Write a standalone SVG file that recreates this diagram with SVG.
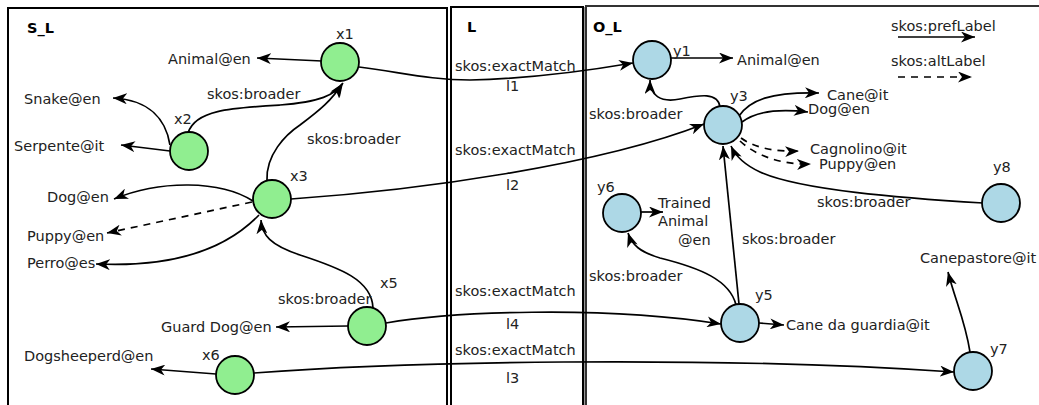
<svg xmlns="http://www.w3.org/2000/svg" width="1039" height="405" viewBox="0 0 1039 405">
<style>
text{font-family:"DejaVu Sans","Liberation Sans",sans-serif;font-size:14.5px;fill:#222}
.b{font-weight:bold;fill:#000}
.box{fill:none;stroke:#000;stroke-width:2}
.src{fill:#90EE90;stroke:#000;stroke-width:1.8}
.tgt{fill:#ADD8E6;stroke:#000;stroke-width:1.8}
.e{fill:none;stroke:#000;stroke-width:1.7;marker-end:url(#ah)}
.d{stroke-dasharray:7,6}
</style>
<defs>
<marker id="ah" markerUnits="userSpaceOnUse" markerWidth="15" markerHeight="11" refX="14" refY="5.5" orient="auto">
<path d="M0,0 L14,5.5 L0,11 L4,5.5 z" fill="#000"/>
</marker>
</defs>
<rect width="1039" height="405" fill="#fff"/>
<g id="regions">
<rect class="box" x="8" y="8" width="439" height="420"/>
<rect class="box" x="451" y="7" width="132" height="420"/>
<rect class="box" x="586" y="6" width="470" height="420" style="stroke:#333"/>
<line x1="584.5" y1="7" x2="584.5" y2="405" stroke="#999" stroke-width="1"/>
<text class="b" x="27" y="33">S_L</text>
<text class="b" x="467" y="32">L</text>
<text class="b" x="593" y="32">O_L</text>
</g>
<g id="legend">
<text x="891" y="31">skos:prefLabel</text>
<path class="e" d="M898 37 L975 37"/>
<text x="891" y="66">skos:altLabel</text>
<path class="e d" d="M898 77 L972 77"/>
</g>
<g id="connectors">
<path class="e" d="M322 61 L257 58"/>
<path class="e" d="M170 145 C166 120 150 100 113 98"/>
<path class="e" d="M170 151 L121 145"/>
<path class="e" d="M188 133 C195 110 230 108 280 105 C320 102 335 95 343 83"/>
<path class="e" d="M267 180 C266 155 285 135 300 125 C320 110 332 100 342 84"/>
<path class="e" d="M253 201 C220 180 160 180 114 199"/>
<path class="e d" d="M252 202 L107 233"/>
<path class="e" d="M259 215 C230 245 180 268 96 264"/>
<path class="e" d="M373 308 C372 280 340 268 300 255 C270 245 262 235 261 220"/>
<path class="e" d="M348 326 L276 327"/>
<path class="e" d="M216 374 L151 369"/>
<path class="e" d="M359 67 C400 72 430 80 470 80 C520 79 580 72 633 63"/>
<path class="e" d="M291 199 C420 190 600 165 704 124"/>
<path class="e" d="M386 323 C450 312 600 305 721 324"/>
<path class="e" d="M254 373 C400 362 700 355 954 372"/>
<path class="e" d="M671 58 L733 58"/>
<path class="e" d="M720 107 C718 92 700 95 680 99 C660 103 650 95 650 80"/>
<path class="e" d="M739 116 C750 100 770 92 819 93"/>
<path class="e" d="M742 122 C755 112 775 108 808 112"/>
<path class="e d" d="M741 138 C755 148 775 152 799 151"/>
<path class="e d" d="M740 141 C755 155 780 165 811 164"/>
<path class="e" d="M983 203 C900 198 800 190 760 172 C745 165 735 155 731 146"/>
<path class="e" d="M739 304 L723 146"/>
<path class="e" d="M736 305 C730 280 700 268 660 258 C640 252 632 245 628 233"/>
<path class="e" d="M641 212 L663 212"/>
<path class="e" d="M759 323 L784 325"/>
<path class="e" d="M970 352 C965 320 955 300 948 272"/>
<text x="207" y="99">skos:broader</text>
<text x="307" y="144">skos:broader</text>
<text x="278" y="304">skos:broader</text>
<text x="455" y="71">skos:exactMatch</text>
<text x="506" y="91">l1</text>
<text x="455" y="155">skos:exactMatch</text>
<text x="506" y="190">l2</text>
<text x="455" y="296">skos:exactMatch</text>
<text x="506" y="329">l4</text>
<text x="455" y="355">skos:exactMatch</text>
<text x="506" y="383">l3</text>
<text x="589" y="119">skos:broader</text>
<text x="817" y="207">skos:broader</text>
<text x="742" y="244">skos:broader</text>
<text x="589" y="281">skos:broader</text>
</g>
<g id="literals">
<text x="168" y="64">Animal@en</text>
<text x="24" y="104">Snake@en</text>
<text x="14" y="151">Serpente@it</text>
<text x="47" y="202">Dog@en</text>
<text x="27" y="241">Puppy@en</text>
<text x="27" y="268">Perro@es</text>
<text x="161" y="332">Guard Dog@en</text>
<text x="24" y="361">Dogsheeperd@en</text>
<text x="737" y="65">Animal@en</text>
<text x="827" y="100">Cane@it</text>
<text x="808" y="114">Dog@en</text>
<text x="810" y="154">Cagnolino@it</text>
<text x="819" y="169">Puppy@en</text>
<text x="658" y="208">Trained</text>
<text x="658" y="226">Animal</text>
<text x="678" y="245">@en</text>
<text x="786" y="330">Cane da guardia@it</text>
<text x="920" y="263">Canepastore@it</text>
</g>
<g id="x1"><circle class="src" cx="340" cy="62" r="19"/><text x="336" y="39">x1</text></g>
<g id="x2"><circle class="src" cx="189" cy="151" r="19"/><text x="174" y="124">x2</text></g>
<g id="x3"><circle class="src" cx="272" cy="199" r="19"/><text x="290" y="181">x3</text></g>
<g id="x5"><circle class="src" cx="367" cy="326" r="19"/><text x="380" y="288">x5</text></g>
<g id="x6"><circle class="src" cx="235" cy="375" r="19"/><text x="202" y="360">x6</text></g>
<g id="y1"><circle class="tgt" cx="652" cy="60" r="19"/><text x="673" y="56">y1</text></g>
<g id="y3"><circle class="tgt" cx="723" cy="125" r="19"/><text x="730" y="101">y3</text></g>
<g id="y6"><circle class="tgt" cx="622" cy="213" r="19"/><text x="597" y="192">y6</text></g>
<g id="y8"><circle class="tgt" cx="1001" cy="203" r="19"/><text x="993" y="172">y8</text></g>
<g id="y5"><circle class="tgt" cx="740" cy="323" r="19"/><text x="755" y="300">y5</text></g>
<g id="y7"><circle class="tgt" cx="973" cy="371" r="19"/><text x="990" y="354">y7</text></g>
</svg>
